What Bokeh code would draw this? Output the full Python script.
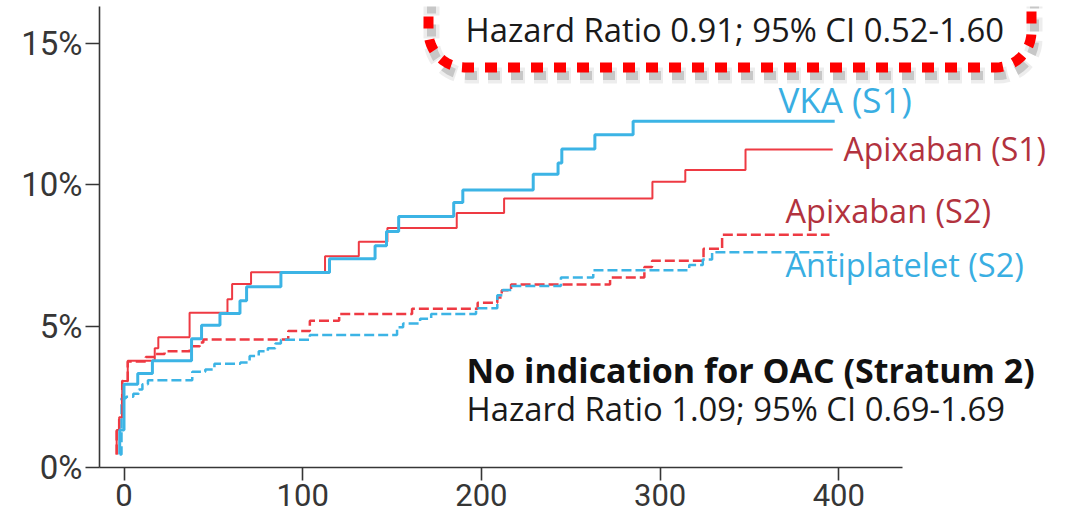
import math
from bokeh.plotting import figure
from bokeh.models import Range1d, FixedTicker, PrintfTickFormatter
from bokeh.models import Label
from bokeh.embed import file_html
from bokeh.resources import INLINE

# ---------------- data (days since randomisation, cumulative incidence %) -------------
vka_s1_days = [-2.4, -2.4, 0, 7.7, 15.9, 37.8, 43.4, 53.7, 64.9, 68.6, 87.8, 115, 140.5,
               146.9, 153.7, 184.5, 189.6, 229, 242.9, 245, 263.5, 284.9, 397.7]
vka_s1_pct = [0.46, 1.33, 2.95, 3.33, 3.78, 4.56, 5.03, 5.45, 5.9, 6.4, 6.9, 7.39, 7.85,
              8.35, 8.88, 9.38, 9.82, 10.38, 10.78, 11.27, 11.78, 12.25, 12.25]

apix_s1_days = [-4.1, -4.1, -2.7, -1.0, 2.1, 17.2, 19.2, 36.7, 57.9, 60.5, 71.1, 112.5,
                131.4, 147.4, 186.2, 212.7, 295.7, 314.1, 347.8, 396.6]
apix_s1_pct = [0.46, 1.33, 1.78, 3.06, 3.78, 4.22, 4.61, 5.48, 5.95, 6.49, 6.91, 7.48,
               7.99, 8.48, 9.01, 9.52, 10.11, 10.53, 11.25, 11.25]

apix_s2_days = [-4.1, -4.1, -2.7, -1.0, 2.1, 12.2, 17.8, 22.7, 36.8, 42.4, 44.4, 91.9, 104,
                120.4, 161.2, 197.9, 208.9, 211.4, 216.6, 272, 291.2, 295.5, 324.3, 334.7, 394.8]
apix_s2_pct = [0.46, 1.33, 1.78, 3.06, 3.75, 3.91, 4.02, 4.11, 4.29, 4.42, 4.53, 4.83, 5.19,
               5.43, 5.62, 5.83, 6.02, 6.27, 6.48, 6.72, 7.1, 7.32, 7.74, 8.24, 8.24]

antip_s2_days = [-2.4, -1.4, 1.1, 5.2, 8.3, 10.3, 13.4, 38.2, 45.5, 50.6, 65.1, 70.3, 75.4,
                 80.5, 84.7, 87.8, 104, 152.8, 156.2, 165.7, 171.9, 197, 208.9, 211.9, 217,
                 244.5, 262.6, 316.3, 323.9, 329.1, 396.6]
antip_s2_pct = [0.46, 2.45, 2.5, 2.61, 2.76, 2.95, 3.09, 3.39, 3.47, 3.67, 3.72, 3.95, 4.11,
                4.22, 4.39, 4.52, 4.69, 4.96, 5.1, 5.26, 5.43, 5.64, 6.1, 6.28, 6.42, 6.72,
                6.98, 7.17, 7.36, 7.62, 7.62]

x_ticks = [0, 100, 200, 300, 400]
y_ticks = [0, 5, 10, 15]

series_labels = ["VKA (S1)", "Apixaban (S1)", "Apixaban (S2)", "Antiplatelet (S2)"]
stratum1_hr = "Hazard Ratio 0.91; 95% CI 0.52-1.60"
stratum2_title = "No indication for OAC (Stratum 2)"
stratum2_hr = "Hazard Ratio 1.09; 95% CI 0.69-1.69"

# ---------------- layout helpers (page pixel -> data) -------------------------------
W, H = 1071, 512
LEFT, TOP, BOTTOM = 99, 6, 45
X0_PX, X_SCALE = 123.5, 1.787
Y0_PX, Y_SCALE = 467.0, 28.257


def dx(px):
    return (px - X0_PX) / X_SCALE


def dy(py):
    return (Y0_PX - py) / Y_SCALE


BLUE = "#3CB4E5"
RED = "#EE3A43"
BLUE_TXT = "#39AEE2"
RED_TXT = "#B2323E"
AX = "#363636"

p = figure(width=W, height=H, output_backend="svg", toolbar_location=None,
           x_range=Range1d(dx(LEFT), dx(W)), y_range=Range1d(0, dy(TOP)),
           min_border_left=LEFT, min_border_right=0, min_border_top=TOP,
           min_border_bottom=BOTTOM)
p.xgrid.visible = False
p.ygrid.visible = False
p.outline_line_color = None

xa = p.xaxis[0]
xa.ticker = FixedTicker(ticks=x_ticks)
xa.bounds = (dx(LEFT), dx(902))
xa.axis_line_color = AX
xa.axis_line_width = 1.6
xa.major_tick_line_color = AX
xa.major_tick_line_width = 1.6
xa.major_tick_out = 13
xa.major_tick_in = 0
xa.minor_tick_out = 0
xa.minor_tick_in = 0
xa.major_label_text_font = "Roboto"
xa.major_label_text_font_size = "31px"
xa.major_label_text_color = AX
xa.major_label_standoff = 3

ya = p.yaxis[0]
ya.ticker = FixedTicker(ticks=y_ticks)
ya.formatter = PrintfTickFormatter(format="%d%%")
ya.axis_line_color = AX
ya.axis_line_width = 1.6
ya.major_tick_line_color = AX
ya.major_tick_line_width = 1.6
ya.major_tick_out = 14
ya.major_tick_in = 0
ya.minor_tick_out = 0
ya.minor_tick_in = 0
ya.major_label_text_font = "Roboto"
ya.major_label_text_font_size = "33px"
ya.major_label_text_color = AX
ya.major_label_standoff = 3

# ---------------- curves ---------------------------------------------------------
p.step(apix_s2_days, apix_s2_pct, mode="after", line_color=RED, line_width=2.5,
       line_dash="10 4")
p.step(antip_s2_days, antip_s2_pct, mode="after", line_color=BLUE, line_width=2.5,
       line_dash="10 4")
p.step(apix_s1_days, apix_s1_pct, mode="after", line_color=RED, line_width=2)
p.step(vka_s1_days, vka_s1_pct, mode="after", line_color=BLUE, line_width=3)

# ---------------- texts (y = vertical centre of capitals, page px) ---------------
def lab(px, py, text, color, size, bold=False):
    p.add_layout(Label(x=dx(px), y=dy(py), text=text, text_align="left",
                       text_baseline="middle", text_font="Open Sans",
                       text_font_size=size, text_color=color,
                       text_font_style="bold" if bold else "normal"))


lab(778, 99, series_labels[0], BLUE_TXT, "35px")
lab(843, 148, series_labels[1], RED_TXT, "32px")
lab(785, 210, series_labels[2], RED_TXT, "32.5px")
lab(785, 263.5, series_labels[3], BLUE_TXT, "32.5px")
lab(466, 369, stratum2_title, "#111111", "34px", bold=True)
lab(466, 408, stratum2_hr, "#1a1a1a", "32.8px")
lab(465, 28.5, stratum1_hr, "#1a1a1a", "32.8px")

# ---------------- red dotted rounded frame with soft shadow ----------------------
def rounded_path(left, right, bottom, top, r, ox=0.0, oy=0.0, n=12):
    xs, ys = [left, left], [top, bottom - r]
    for i in range(n + 1):
        t = math.pi / 2 * i / n
        xs.append(left + r - r * math.cos(t))
        ys.append(bottom - r + r * math.sin(t))
    for i in range(n + 1):
        t = math.pi / 2 * i / n
        xs.append(right - r + r * math.sin(t))
        ys.append(bottom - r + r * math.cos(t))
    xs.append(right)
    ys.append(top)
    return [dx(x + ox) for x in xs], [dy(y + oy) for y in ys]


sx, sy = rounded_path(428, 1031, 67, -30, 36, 3, 8)
p.line(sx, sy, line_color="#000000", line_alpha=0.07, line_width=16, line_dash="14 9")
p.line(sx, sy, line_color="#000000", line_alpha=0.16, line_width=9, line_dash="12 11")
bx, by = rounded_path(428, 1031, 67, -30, 36)
p.line(bx, by, line_color="#FF0000", line_width=10, line_dash="12 11", line_cap="butt")

open("out.html", "w").write(file_html(p, INLINE))
